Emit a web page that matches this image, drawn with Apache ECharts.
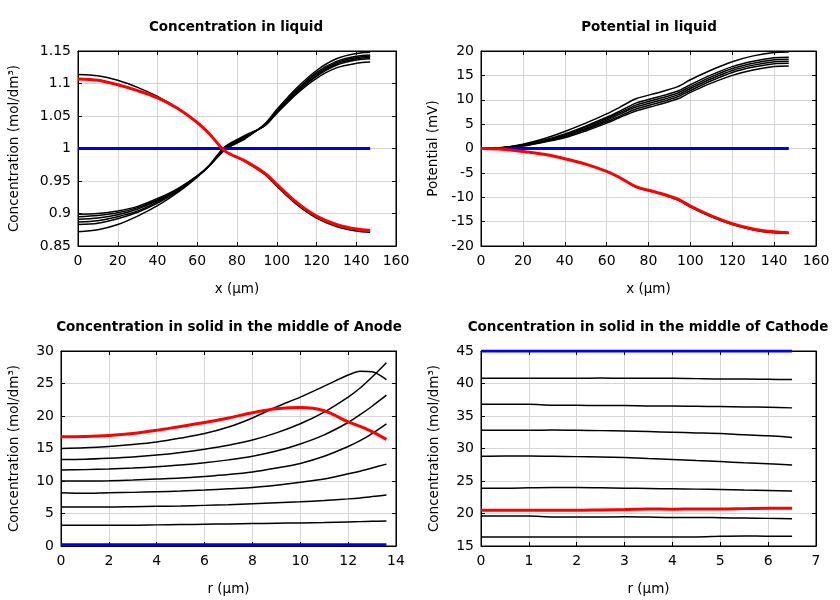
<!DOCTYPE html>
<html>
<head>
<meta charset="utf-8">
<script src="https://cdn.jsdelivr.net/npm/echarts@6/dist/echarts.min.js"></script>
<style>
  html, body { margin: 0; padding: 0; background: #fff; }
  #chart { width: 840px; height: 600px; }
</style>
</head>
<body>
<div id="chart"></div>
<script>
// ---- data: concentration / potential in liquid (x in µm) ----
const xLiquid = [0, 10, 20, 30, 40, 50, 60, 66, 74, 84, 94, 100, 110, 120, 130, 140, 147];

const concLiqBlack = [
    [0.872, 0.875, 0.883, 0.896, 0.912, 0.932, 0.956, 0.973, 0.998, 1.015, 1.038, 1.060, 1.093, 1.120, 1.138, 1.146, 1.148],
    [0.883, 0.885, 0.892, 0.902, 0.916, 0.934, 0.957, 0.973, 0.999, 1.016, 1.037, 1.058, 1.090, 1.117, 1.134, 1.142, 1.144],
    [0.887, 0.889, 0.895, 0.904, 0.918, 0.935, 0.957, 0.973, 1.000, 1.017, 1.036, 1.057, 1.089, 1.115, 1.132, 1.140, 1.142],
    [0.891, 0.893, 0.898, 0.907, 0.920, 0.936, 0.957, 0.973, 1.001, 1.018, 1.036, 1.056, 1.087, 1.113, 1.130, 1.138, 1.140],
    [0.895, 0.897, 0.901, 0.909, 0.921, 0.937, 0.958, 0.974, 1.002, 1.019, 1.035, 1.055, 1.086, 1.111, 1.128, 1.136, 1.138],
    [0.899, 0.900, 0.904, 0.911, 0.923, 0.938, 0.958, 0.974, 1.003, 1.020, 1.035, 1.054, 1.084, 1.108, 1.124, 1.131, 1.133],
    [1.114, 1.112, 1.105, 1.094, 1.080, 1.062, 1.040, 1.023, 0.996, 0.980, 0.960, 0.942, 0.914, 0.893, 0.880, 0.873, 0.871]
];
const concLiqStart = [1, 1, 1, 1, 1, 1, 1, 1, 1, 1, 1, 1, 1, 1, 1, 1, 1];
const concLiqEnd = [1.107, 1.105, 1.098, 1.089, 1.078, 1.062, 1.040, 1.023, 0.996, 0.981, 0.962, 0.945, 0.917, 0.896, 0.883, 0.876, 0.874];

const potLiqBlack = [
    [0, 0.2, 0.9, 2.0, 3.5, 5.2, 7.1, 8.4, 10.2, 11.4, 12.7, 14.1, 16.1, 17.8, 19.0, 19.7, 19.8],
    [0, 0.15, 0.7, 1.7, 3.0, 4.6, 6.4, 7.6, 9.3, 10.5, 11.8, 13.1, 15.1, 16.8, 17.9, 18.6, 18.7],
    [0, 0.15, 0.7, 1.6, 2.8, 4.4, 6.1, 7.3, 8.9, 10.1, 11.4, 12.7, 14.7, 16.4, 17.5, 18.2, 18.3],
    [0, 0.1, 0.6, 1.5, 2.6, 4.1, 5.8, 7.0, 8.5, 9.7, 11.0, 12.3, 14.3, 16.0, 17.1, 17.8, 17.9],
    [0, 0.1, 0.6, 1.4, 2.4, 3.9, 5.5, 6.6, 8.1, 9.3, 10.6, 11.9, 13.9, 15.6, 16.7, 17.4, 17.5],
    [0, 0.1, 0.5, 1.3, 2.2, 3.6, 5.2, 6.3, 7.7, 8.9, 10.2, 11.5, 13.4, 15.0, 16.1, 16.8, 16.9],
    [0, -0.15, -0.6, -1.2, -2.1, -3.2, -4.7, -5.9, -7.9, -9.1, -10.6, -12.0, -14.0, -15.6, -16.7, -17.3, -17.4]
];
const potLiqStart = [0, 0, 0, 0, 0, 0, 0, 0, 0, 0, 0, 0, 0, 0, 0, 0, 0];
const potLiqEnd = [0, -0.15, -0.6, -1.2, -2.1, -3.2, -4.7, -5.9, -7.8, -9.0, -10.4, -11.8, -13.8, -15.4, -16.5, -17.1, -17.3];

// ---- data: concentration in solid, anode (r in µm) ----
const rAnode = [0, 1, 2, 3, 4, 5, 6, 7, 8, 9, 10, 11, 12, 12.5, 13, 13.6];
const anodeBlack = [
    [3.2, 3.2, 3.2, 3.2, 3.25, 3.3, 3.35, 3.4, 3.45, 3.5, 3.55, 3.6, 3.7, 3.75, 3.8, 3.85],
    [6.0, 6.0, 6.0, 6.05, 6.1, 6.15, 6.25, 6.35, 6.5, 6.65, 6.8, 7.0, 7.25, 7.4, 7.6, 7.85],
    [8.2, 8.1, 8.2, 8.25, 8.35, 8.45, 8.6, 8.8, 9.0, 9.35, 9.8, 10.3, 11.1, 11.5, 12.0, 12.6],
    [10.0, 10.0, 10.05, 10.15, 10.3, 10.45, 10.7, 11.0, 11.4, 12.0, 12.7, 13.8, 15.3, 16.2, 17.3, 18.8],
    [11.7, 11.75, 11.85, 12.0, 12.2, 12.45, 12.8, 13.25, 13.8, 14.6, 15.7, 17.1, 19.0, 20.2, 21.5, 23.2],
    [13.3, 13.35, 13.5, 13.7, 14.0, 14.4, 14.9, 15.5, 16.3, 17.4, 18.8, 20.6, 22.9, 24.3, 26.0, 28.2],
    [15.0, 15.1, 15.3, 15.6, 16.0, 16.6, 17.3, 18.3, 19.7, 21.4, 22.9, 24.6, 26.3, 26.9, 26.8, 25.6]
];
const anodeStart = [0.2, 0.2, 0.2, 0.2, 0.2, 0.2, 0.2, 0.2, 0.2, 0.2, 0.2, 0.2, 0.2, 0.2, 0.2, 0.2];
const anodeEnd = [16.8, 16.85, 17.0, 17.3, 17.8, 18.4, 19.0, 19.7, 20.5, 21.1, 21.3, 20.8, 19.1, 18.4, 17.6, 16.4];

// ---- data: concentration in solid, cathode (r in µm) ----
const rCathode = [0, 0.5, 1, 1.5, 2, 2.5, 3, 3.5, 4, 4.5, 5, 5.5, 6, 6.5];
const cathodeBlack = [
    [40.8, 40.8, 40.8, 40.8, 40.8, 40.85, 40.8, 40.8, 40.8, 40.75, 40.7, 40.7, 40.65, 40.6],
    [36.8, 36.8, 36.8, 36.65, 36.65, 36.6, 36.6, 36.55, 36.55, 36.5, 36.45, 36.4, 36.35, 36.25],
    [32.8, 32.8, 32.8, 32.85, 32.8, 32.75, 32.7, 32.6, 32.5, 32.4, 32.3, 32.1, 31.95, 31.7],
    [28.8, 28.85, 28.85, 28.8, 28.75, 28.7, 28.6, 28.45, 28.3, 28.15, 28.0, 27.8, 27.65, 27.45],
    [23.9, 23.9, 23.95, 24.0, 24.0, 23.95, 23.9, 23.85, 23.8, 23.75, 23.7, 23.6, 23.55, 23.45],
    [19.6, 19.6, 19.6, 19.45, 19.45, 19.45, 19.5, 19.45, 19.4, 19.4, 19.35, 19.3, 19.25, 19.2],
    [16.4, 16.4, 16.4, 16.4, 16.4, 16.4, 16.4, 16.4, 16.4, 16.4, 16.5, 16.55, 16.5, 16.5]
];
const cathodeStart = [45, 45, 45, 45, 45, 45, 45, 45, 45, 45, 45, 45, 45, 45];
const cathodeEnd = [20.5, 20.5, 20.5, 20.5, 20.5, 20.55, 20.6, 20.7, 20.65, 20.7, 20.7, 20.75, 20.8, 20.8];

const titles = ['Concentration in liquid', 'Potential in liquid',
                'Concentration in solid in the middle of Anode', 'Concentration in solid in the middle of Cathode'];
const xNames = ['x (µm)', 'x (µm)', 'r (µm)', 'r (µm)'];
const yNames = ['Concentration (mol/dm³)', 'Potential (mV)', 'Concentration (mol/dm³)', 'Concentration (mol/dm³)'];

const font = 'DejaVu Sans';

// panel layout and axis ranges
const panels = [
    {grid: {left: 78, top: 51, width: 318, height: 195}, xr: [0, 160, 20], yr: [0.85, 1.15, 0.05], yGap: 57,
     x: xLiquid, black: concLiqBlack, blue: concLiqStart, red: concLiqEnd},
    {grid: {left: 481, top: 51, width: 335, height: 195}, xr: [0, 160, 20], yr: [-20, 20, 5], yGap: 41,
     x: xLiquid, black: potLiqBlack, blue: potLiqStart, red: potLiqEnd},
    {grid: {left: 61, top: 351, width: 335, height: 195}, xr: [0, 14, 2], yr: [0, 30, 5], yGap: 40,
     x: rAnode, black: anodeBlack, blue: anodeStart, red: anodeEnd},
    {grid: {left: 481, top: 351, width: 335, height: 195}, xr: [0, 7, 1], yr: [15, 45, 5], yGap: 40,
     x: rCathode, black: cathodeBlack, blue: cathodeStart, red: cathodeEnd}
];

const zip = (xs, ys) => xs.map((x, i) => [x, ys[i]]);

let grids = [], xAxes = [], yAxes = [], series = [], titleOpts = [];
const titleCenters = [[231, 15], [644, 15], [224, 315], [643, 315]];

panels.forEach(function (p, i) {
    grids.push(Object.assign({show: true, borderColor: '#000', borderWidth: 1}, p.grid));
    titleOpts.push({
        text: titles[i], left: titleCenters[i][0], top: titleCenters[i][1], textAlign: 'center',
        textStyle: {fontFamily: font, fontSize: 13.5, fontWeight: 'bold', color: '#000'}
    });
    const tick = {show: true, inside: true, length: 4, lineStyle: {color: '#000'}};
    const axLine = {show: true, onZero: false, lineStyle: {color: '#000', width: 1}};
    // main axes
    xAxes.push({
        type: 'value', gridIndex: i, min: p.xr[0], max: p.xr[1], interval: p.xr[2],
        name: xNames[i], nameLocation: 'middle', nameGap: 36,
        nameTextStyle: {fontFamily: font, fontSize: 13.5, color: '#000'},
        axisLine: axLine, axisTick: tick,
        axisLabel: {fontFamily: font, fontSize: 14, color: '#000', margin: 8},
        splitLine: {show: true, lineStyle: {color: '#d6d6d6', width: 1}}
    });
    yAxes.push({
        type: 'value', gridIndex: i, min: p.yr[0], max: p.yr[1], interval: p.yr[2],
        name: yNames[i], nameLocation: 'middle', nameGap: p.yGap,
        nameTextStyle: {fontFamily: font, fontSize: 13.5, color: '#000'},
        axisLine: axLine, axisTick: tick,
        axisLabel: {fontFamily: font, fontSize: 14, color: '#000', margin: 7},
        splitLine: {show: true, lineStyle: {color: '#d6d6d6', width: 1}}
    });
    // mirrored axes (ticks on top and right)
    xAxes.push({
        type: 'value', gridIndex: i, position: 'top', min: p.xr[0], max: p.xr[1], interval: p.xr[2],
        axisLine: axLine, axisTick: tick, axisLabel: {show: false}, splitLine: {show: false}
    });
    yAxes.push({
        type: 'value', gridIndex: i, position: 'right', min: p.yr[0], max: p.yr[1], interval: p.yr[2],
        axisLine: axLine, axisTick: tick, axisLabel: {show: false}, splitLine: {show: false}
    });

    const xi = i * 2, yi = i * 2;
    p.black.forEach(function (ys) {
        series.push({
            type: 'line', xAxisIndex: xi, yAxisIndex: yi, data: zip(p.x, ys), smooth: 0.3,
            showSymbol: false, silent: true, lineStyle: {color: '#000', width: 1.5}
        });
    });
    series.push({
        type: 'line', xAxisIndex: xi, yAxisIndex: yi, data: zip(p.x, p.blue),
        showSymbol: false, silent: true, lineStyle: {color: '#0000ee', width: 3}
    });
    series.push({
        type: 'line', xAxisIndex: xi, yAxisIndex: yi, data: zip(p.x, p.red), smooth: 0.3,
        showSymbol: false, silent: true, lineStyle: {color: '#ff0000', width: 3}
    });
});

let option = {
    animation: false,
    backgroundColor: '#fff',
    title: titleOpts,
    grid: grids,
    xAxis: xAxes,
    yAxis: yAxes,
    series: series
};

var chart = echarts.init(document.getElementById('chart'));
chart.setOption(option);
</script>
</body>
</html>
